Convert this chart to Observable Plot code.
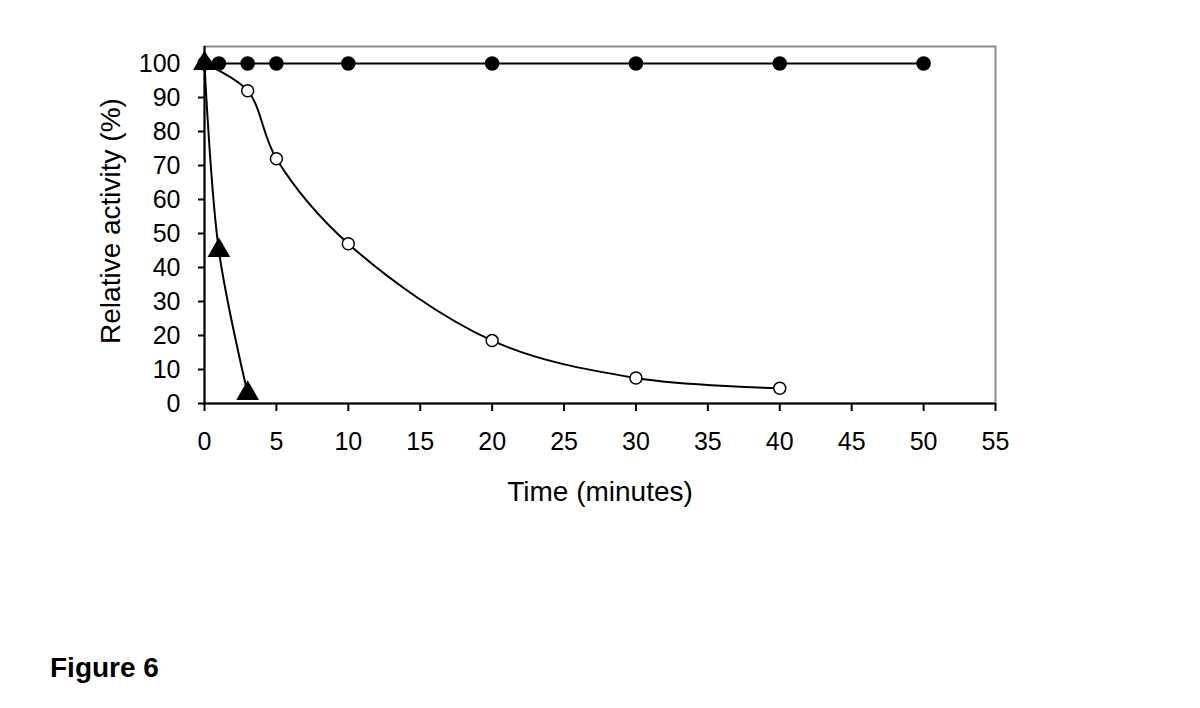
<!DOCTYPE html>
<html>
<head>
<meta charset="utf-8">
<script src="https://cdn.jsdelivr.net/npm/d3@7"></script>
<script src="https://cdn.jsdelivr.net/npm/@observablehq/plot@0.6"></script>
<style>
  html, body { margin: 0; padding: 0; background: #fff; }
  #wrap { position: relative; width: 1200px; height: 708px; }
  #caption { position: absolute; left: 50px; top: 652px; font-family: "Liberation Sans", Arial, sans-serif; font-weight: bold; font-size: 28px; color: #000; }
</style>
</head>
<body>
<div id="wrap"><div id="chart"></div><div id="caption">Figure 6</div></div>
<script>
// Filled circles (control)
const controlTime = [0, 1, 3, 5, 10, 20, 30, 40, 50];
const controlActivity = [100, 100, 100, 100, 100, 100, 100, 100, 100];
// Open circles
const openTime = [0, 3, 5, 10, 20, 30, 40];
const openActivity = [100, 92, 72, 47, 18.5, 7.5, 4.5];
// Triangles
const triTime = [0, 1, 3];
const triActivity = [100, 45, 3];

const xTicks = [0, 5, 10, 15, 20, 25, 30, 35, 40, 45, 50, 55];
const yTicks = [0, 10, 20, 30, 40, 50, 60, 70, 80, 90, 100];
const xLabel = "Time (minutes)";
const yLabel = "Relative activity (%)";

const control = controlTime.map((t, i) => ({t, v: controlActivity[i]}));
const open = openTime.map((t, i) => ({t, v: openActivity[i]}));
const tri = triTime.map((t, i) => ({t, v: triActivity[i]}));

const chart = Plot.plot({
  width: 1200,
  height: 708,
  marginLeft: 204,
  marginRight: 205,
  marginTop: 46,
  marginBottom: 305,
  style: {fontFamily: "'Liberation Sans', Arial, sans-serif", fontSize: "24px", color: "#000", background: "#fff"},
  x: {domain: [0, 55]},
  y: {domain: [0, 105]},
  marks: [
    Plot.frame({stroke: "#8c8c8c", strokeWidth: 2}),
    Plot.axisX({ticks: xTicks, tickSize: 8, tickPadding: 21, tickFormat: d => d, stroke: "#000", strokeWidth: 2, fontSize: 25, label: null}),
    Plot.axisY({ticks: yTicks, tickSize: 6, tickPadding: 18, tickFormat: d => d, stroke: "#000", strokeWidth: 2, fontSize: 25, label: null}),
    Plot.text([xLabel], {frameAnchor: "bottom", text: d => d, textAnchor: "middle", lineAnchor: "middle", dy: 89, fontSize: 28, fill: "#000"}),
    Plot.text([yLabel], {frameAnchor: "left", text: d => d, textAnchor: "middle", lineAnchor: "middle", rotate: -90, dx: -93, dy: -4, fontSize: 28, fill: "#000"}),
    Plot.ruleY([0], {stroke: "#000", strokeWidth: 2}),
    Plot.ruleX([0], {stroke: "#000", strokeWidth: 2}),
    Plot.line(open, {x: "t", y: "v", stroke: "#000", strokeWidth: 2, curve: "catmull-rom"}),
    Plot.line(tri, {x: "t", y: "v", stroke: "#000", strokeWidth: 2, curve: "catmull-rom"}),
    Plot.line(control, {x: "t", y: "v", stroke: "#000", strokeWidth: 2}),
    Plot.dot(open, {x: "t", y: "v", r: 6, fill: "#fff", stroke: "#000", strokeWidth: 1.5}),
    Plot.dot(control, {x: "t", y: "v", r: 6.5, fill: "#000", stroke: "#000"}),
    Plot.dot(tri, {x: "t", y: "v", symbol: "triangle", r: 7.5, fill: "#000", stroke: "#000"})
  ]
});
document.getElementById("chart").appendChild(chart);
</script>
</body>
</html>
